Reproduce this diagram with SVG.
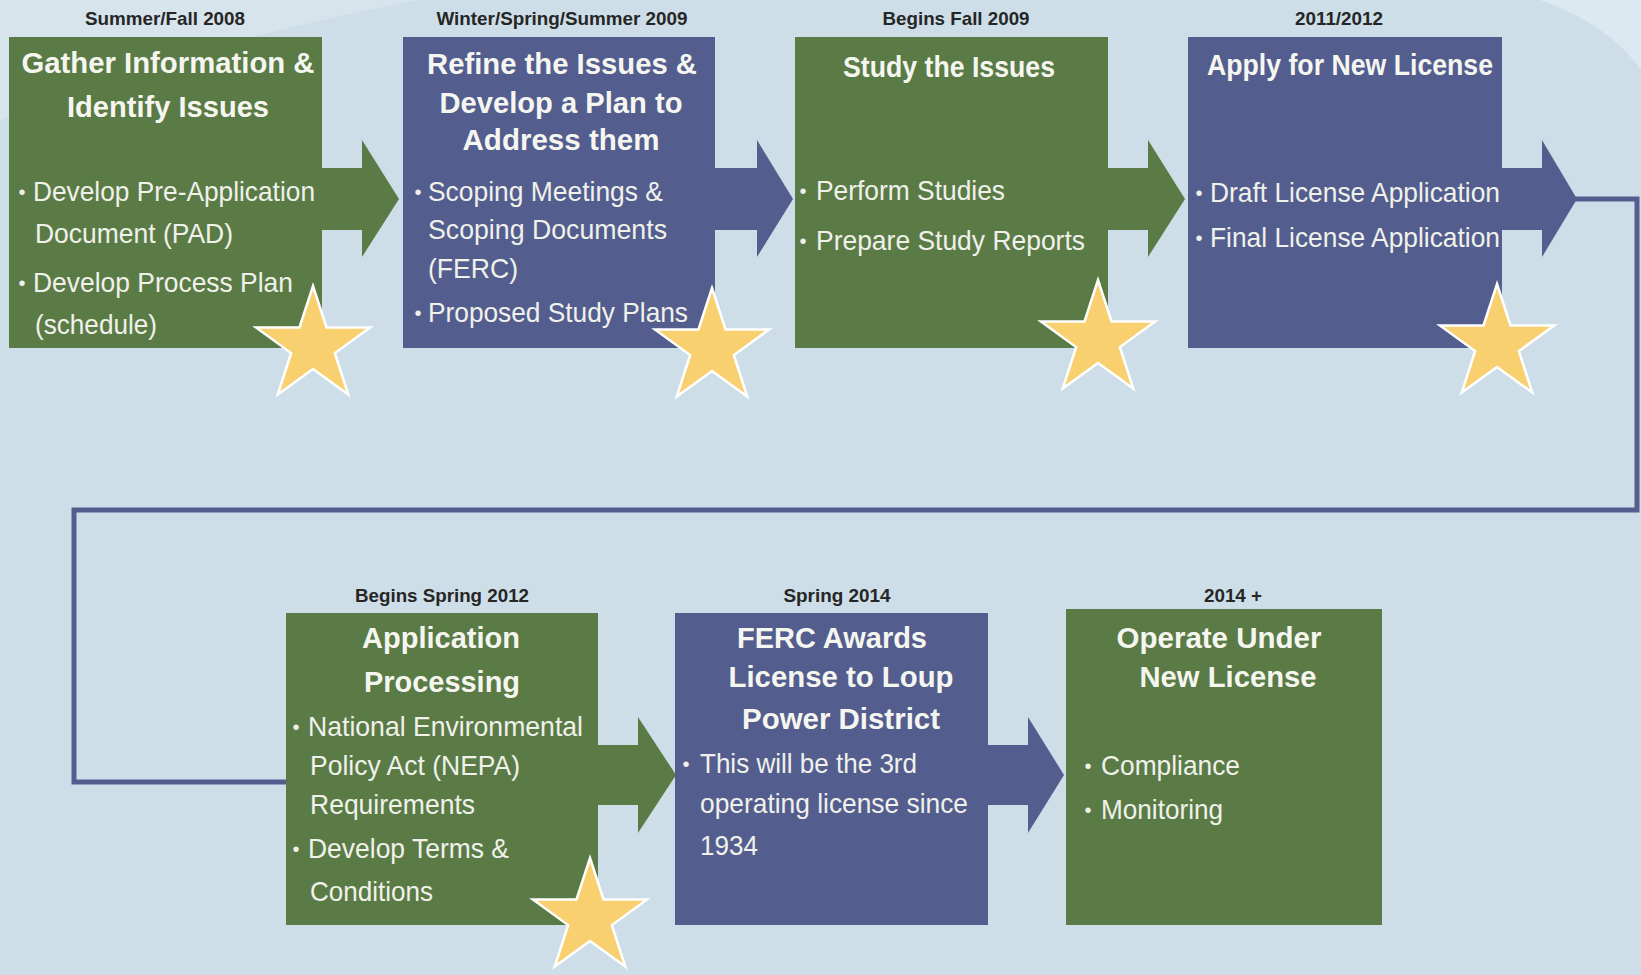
<svg xmlns="http://www.w3.org/2000/svg" width="1641" height="975" viewBox="0 0 1641 975">
<defs>
<style>
.date{font-family:"Liberation Sans Narrow","Liberation Sans",Arial,sans-serif;font-weight:bold;font-size:19px;fill:#262626;text-anchor:middle}
.title{font-family:"Liberation Sans Narrow","Liberation Sans",Arial,sans-serif;font-weight:bold;font-size:29px;fill:#f6f6f0;text-anchor:middle}
.item{font-family:"Liberation Sans Narrow","Liberation Sans",Arial,sans-serif;font-size:28px;fill:#f0f1ea}
.bul{font-family:"Liberation Sans",Arial,sans-serif;font-size:20px;fill:#f0f1ea;text-anchor:middle}
.green{fill:#5a7b46}
.blue{fill:#535e8f}
.star{fill:#f9d06f;stroke:#ffffff;stroke-width:2.5;stroke-linejoin:miter}
.link{fill:none;stroke:#535e8f;stroke-width:5}
</style>
<path id="star" d="M0,-60 L13.52,-18.61 L57.06,-18.54 L21.87,7.11 L35.27,48.54 L0,23 L-35.27,48.54 L-21.87,7.11 L-57.06,-18.54 L-13.52,-18.61 Z"/>
<linearGradient id="bg" x1="0" y1="0" x2="0.25" y2="0.35">
<stop offset="0" stop-color="#e2ecf2"/>
<stop offset="1" stop-color="#cddee8"/>
</linearGradient>
</defs>
<rect width="1641" height="975" fill="#cddee8"/>
<path d="M0,0 H420 Q200,40 0,120 Z" fill="#dbe7ee" opacity="0.7"/>
<path d="M1540,0 Q1610,25 1641,70 V0 Z" fill="#e0ebf1" opacity="0.8"/>

<g id="connectors">
<polygon class="green" points="320,168 362,168 362,140 399,199 362,257 362,230 320,230"/>
<polygon class="blue" points="713,168 757,168 757,140 793,199 757,257 757,230 713,230"/>
<polygon class="green" points="1106,168 1148,168 1148,140 1185,199 1148,257 1148,230 1106,230"/>
<polygon class="blue" points="1500,168 1542,168 1542,140 1577,199 1542,257 1542,230 1500,230"/>
<polyline class="link" points="1575,199 1637,199 1637,510 74,510 74,782 288,782"/>
<polygon class="green" points="596,745 638,745 638,717 676,775 638,833 638,805 596,805"/>
<polygon class="blue" points="986,745 1028,745 1028,717 1064,775 1028,833 1028,805 986,805"/>
</g>

<g id="node1">
<text class="date" x="165" y="25" textLength="160" lengthAdjust="spacingAndGlyphs">Summer/Fall 2008</text>
<rect class="green" x="9" y="37" width="313" height="311"/>
<text class="title" x="168" y="73" textLength="293" lengthAdjust="spacingAndGlyphs">Gather Information &amp;</text>
<text class="title" x="168" y="117" textLength="202" lengthAdjust="spacingAndGlyphs">Identify Issues</text>
<text class="bul" x="22" y="199">•</text>
<text class="item" x="33" y="201" textLength="282" lengthAdjust="spacingAndGlyphs">Develop Pre-Application</text>
<text class="item" x="35" y="243" textLength="198" lengthAdjust="spacingAndGlyphs">Document (PAD)</text>
<text class="bul" x="22" y="290">•</text>
<text class="item" x="33" y="292" textLength="260" lengthAdjust="spacingAndGlyphs">Develop Process Plan</text>
<text class="item" x="35" y="334" textLength="122" lengthAdjust="spacingAndGlyphs">(schedule)</text>
<use class="star" href="#star" x="313" y="346"/>
</g>

<g id="node2">
<text class="date" x="562" y="25" textLength="251" lengthAdjust="spacingAndGlyphs">Winter/Spring/Summer 2009</text>
<rect class="blue" x="403" y="37" width="312" height="311"/>
<text class="title" x="562" y="74" textLength="270" lengthAdjust="spacingAndGlyphs">Refine the Issues &amp;</text>
<text class="title" x="561" y="113" textLength="243" lengthAdjust="spacingAndGlyphs">Develop a Plan to</text>
<text class="title" x="561" y="150" textLength="197" lengthAdjust="spacingAndGlyphs">Address them</text>
<text class="bul" x="418" y="199">•</text>
<text class="item" x="428" y="201" textLength="235" lengthAdjust="spacingAndGlyphs">Scoping Meetings &amp;</text>
<text class="item" x="428" y="239" textLength="239" lengthAdjust="spacingAndGlyphs">Scoping Documents</text>
<text class="item" x="428" y="278" textLength="90" lengthAdjust="spacingAndGlyphs">(FERC)</text>
<text class="bul" x="418" y="320">•</text>
<text class="item" x="428" y="322" textLength="260" lengthAdjust="spacingAndGlyphs">Proposed Study Plans</text>
<use class="star" href="#star" x="712" y="348"/>
</g>

<g id="node3">
<text class="date" x="956" y="25" textLength="147" lengthAdjust="spacingAndGlyphs">Begins Fall 2009</text>
<rect class="green" x="795" y="37" width="313" height="311"/>
<text class="title" x="949" y="77" textLength="212" lengthAdjust="spacingAndGlyphs">Study the Issues</text>
<text class="bul" x="803" y="198">•</text>
<text class="item" x="816" y="200" textLength="189" lengthAdjust="spacingAndGlyphs">Perform Studies</text>
<text class="bul" x="803" y="248">•</text>
<text class="item" x="816" y="250" textLength="269" lengthAdjust="spacingAndGlyphs">Prepare Study Reports</text>
<use class="star" href="#star" x="1098" y="340"/>
</g>

<g id="node4">
<text class="date" x="1339" y="25" textLength="88" lengthAdjust="spacingAndGlyphs">2011/2012</text>
<rect class="blue" x="1188" y="37" width="314" height="311"/>
<text class="title" x="1350" y="75" textLength="286" lengthAdjust="spacingAndGlyphs">Apply for New License</text>
<text class="bul" x="1199" y="200">•</text>
<text class="item" x="1210" y="202" textLength="290" lengthAdjust="spacingAndGlyphs">Draft License Application</text>
<text class="bul" x="1199" y="245">•</text>
<text class="item" x="1210" y="247" textLength="290" lengthAdjust="spacingAndGlyphs">Final License Application</text>
<use class="star" href="#star" x="1497" y="344"/>
</g>

<g id="node5">
<text class="date" x="442" y="602" textLength="174" lengthAdjust="spacingAndGlyphs">Begins Spring 2012</text>
<rect class="green" x="286" y="613" width="312" height="312"/>
<text class="title" x="441" y="648" textLength="158" lengthAdjust="spacingAndGlyphs">Application</text>
<text class="title" x="442" y="692" textLength="156" lengthAdjust="spacingAndGlyphs">Processing</text>
<text class="bul" x="296" y="734">•</text>
<text class="item" x="308" y="736" textLength="275" lengthAdjust="spacingAndGlyphs">National Environmental</text>
<text class="item" x="310" y="775" textLength="210" lengthAdjust="spacingAndGlyphs">Policy Act (NEPA)</text>
<text class="item" x="310" y="814" textLength="165" lengthAdjust="spacingAndGlyphs">Requirements</text>
<text class="bul" x="296" y="856">•</text>
<text class="item" x="308" y="858" textLength="201" lengthAdjust="spacingAndGlyphs">Develop Terms &amp;</text>
<text class="item" x="310" y="901" textLength="123" lengthAdjust="spacingAndGlyphs">Conditions</text>
<use class="star" href="#star" x="590" y="918"/>
</g>

<g id="node6">
<text class="date" x="837" y="602" textLength="107" lengthAdjust="spacingAndGlyphs">Spring 2014</text>
<rect class="blue" x="675" y="613" width="313" height="312"/>
<text class="title" x="832" y="648" textLength="190" lengthAdjust="spacingAndGlyphs">FERC Awards</text>
<text class="title" x="841" y="687" textLength="225" lengthAdjust="spacingAndGlyphs">License to Loup</text>
<text class="title" x="841" y="729" textLength="198" lengthAdjust="spacingAndGlyphs">Power District</text>
<text class="bul" x="686" y="771">•</text>
<text class="item" x="700" y="773" textLength="217" lengthAdjust="spacingAndGlyphs">This will be the 3rd</text>
<text class="item" x="700" y="813" textLength="268" lengthAdjust="spacingAndGlyphs">operating license since</text>
<text class="item" x="700" y="855" textLength="58" lengthAdjust="spacingAndGlyphs">1934</text>
</g>

<g id="node7">
<text class="date" x="1233" y="602" textLength="58" lengthAdjust="spacingAndGlyphs">2014 +</text>
<rect class="green" x="1066" y="609" width="316" height="316"/>
<text class="title" x="1219" y="648" textLength="205" lengthAdjust="spacingAndGlyphs">Operate Under</text>
<text class="title" x="1228" y="687" textLength="177" lengthAdjust="spacingAndGlyphs">New License</text>
<text class="bul" x="1088" y="773">•</text>
<text class="item" x="1101" y="775" textLength="139" lengthAdjust="spacingAndGlyphs">Compliance</text>
<text class="bul" x="1088" y="817">•</text>
<text class="item" x="1101" y="819" textLength="122" lengthAdjust="spacingAndGlyphs">Monitoring</text>
</g>
</svg>
